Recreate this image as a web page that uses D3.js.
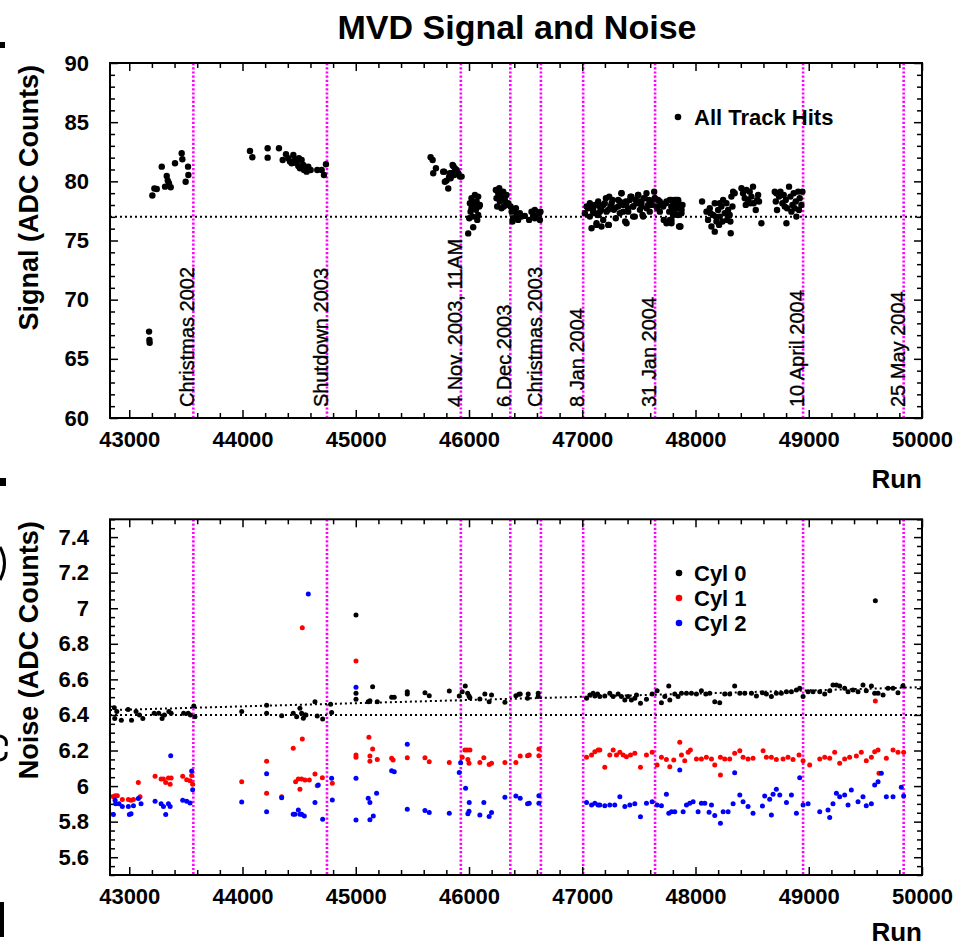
<!DOCTYPE html>
<html><head><meta charset="utf-8">
<script src="https://cdn.jsdelivr.net/npm/d3@7"></script>
<style>body{margin:0;background:#fff}svg{display:block}text{font-family:"Liberation Sans",Arial,Helvetica,sans-serif}</style>
</head><body>
<script>
// ---------- DATA ----------
const runDomain = [42830, 50000];
const xTickValues = [43000,44000,45000,46000,47000,48000,49000,50000];
const signalTicks = [60,65,70,75,80,85,90];
const noiseTicks = [5.6,5.8,6.0,6.2,6.4,6.6,6.8,7.0,7.2,7.4];
const noiseTickLabels = ["5.6","5.8","6","6.2","6.4","6.6","6.8","7","7.2","7.4"];
const eventRuns = [43566,44746,45928,46365,46635,47008,47643,48950,49838];
const eventLabels = ["Christmas 2002","Shutdown 2003","4 Nov. 2003, 11AM","6 Dec 2003","Christmas 2003","8 Jan 2004","31 Jan 2004","10 April 2004","25 May 2004"];
const signalRef = 77;
const noiseRef = 6.4;
const noiseTrend = [[42830,6.427],[50000,6.556]];

// All Track Hits [run, signal]
const signalHits = [
[43175,67.3],[43178,66.6],[43180,66.35],
[43204,78.8],[43222,79.4],[43243,79.35],[43287,81.24],[43316,79.55],[43331,80.46],[43340,80.06],[43351,79.84],[43366,79.5],[43404,81.53],[43463,82.37],[43469,81.87],[43498,79.97],[43519,81.24],[43522,80.54],
[44066,82.57],[44087,82.04],[44222,82.8],[44222,82.0],[44322,82.8],[44355,81.8],[44384,82.29],[44404,81.95],[44419,81.67],[44434,81.53],[44449,82.23],[44463,81.8],[44478,81.53],[44493,81.3],[44498,81.95],[44507,81.1],[44522,81.8],[44537,81.39],[44543,80.96],[44552,81.1],[44566,80.82],[44581,81.24],[44602,80.96],[44660,80.96],[44699,80.96],[44719,80.54],[44737,81.44],
[45661,82.04],[45679,81.8],[45684,80.68],[45708,81.1],[45772,80.82],[45781,80.82],[45787,79.97],[45802,80.06],[45817,79.4],[45825,80.4],[45831,80.68],[45838,80.26],[45847,80.68],[45855,81.39],[45861,81.3],[45870,80.54],[45875,81.1],[45891,80.96],[45905,80.68],[45920,80.4],[45935,80.4],
[45993,75.6],[46037,76.12],[46008,78.15],[46022,78.57],[46037,77.87],[46052,78.85],[46067,78.29],[46081,78.71],[46090,77.87],[46014,77.44],[46031,77.02],[46061,77.59],[46081,77.16],[46096,78.01],[46002,76.88],[46073,76.74],[46049,78.15],[46022,77.73],
[46237,79.27],[46258,78.99],[46243,78.57],[46273,78.29],[46287,78.71],[46302,79.13],[46317,78.43],[46331,78.85],[46346,78.15],[46249,77.87],[46287,77.73],[46326,78.01],[46267,79.41],[46308,77.87],
[46367,77.87],[46376,77.44],[46390,76.88],[46405,77.59],[46420,77.16],[46434,76.74],[46449,77.3],[46464,77.02],[46493,77.08],[46384,76.6],[46414,77.73],
[46531,76.74],[46552,77.44],[46567,77.16],[46581,77.59],[46596,77.02],[46620,77.3],[46631,77.44],[46626,76.74],[46581,76.88],
[47023,77.3],[47052,77.73],[47067,77.02],[47082,76.04],[47096,77.44],[47111,78.01],[47126,76.32],[47141,77.16],[47155,77.87],[47170,77.59],[47185,76.74],[47199,78.15],[47214,77.44],[47229,76.32],[47238,78.71],[47249,77.87],[47267,78.43],[47279,77.59],[47296,76.88],[47317,77.87],[47332,78.29],[47346,78.99],[47361,77.44],[47379,76.6],[47390,78.15],[47405,77.73],[47420,78.43],[47435,78.71],[47449,77.87],[47464,77.02],[47479,78.15],[47494,78.85],[47508,78.29],[47523,77.87],[47538,77.02],[47552,78.57],[47567,78.99],[47582,78.01],[47596,77.44],[47611,78.29],[47640,78.57],[47655,77.87],[47670,78.43],[47685,77.44],[47699,78.01],[47720,76.74],[47744,78.29],[47773,76.74],[47788,77.87],[47802,77.16],[47817,78.43],[47838,77.73],[47855,76.18],
[47126,76.46],[47170,76.18],[47235,76.32],[47347,78.99],[47391,76.46],[47450,77.02],[47532,77.16],[47635,79.13],[47744,76.46],[47788,76.74],[47862,76.18],[47847,77.87],[47832,78.43],
[47038,77.87],[47067,78.15],[47097,77.73],[47112,77.3],[47141,78.29],[47156,77.44],[47185,78.01],[47209,78.57],[47229,77.59],[47259,78.15],[47288,77.73],[47317,78.43],[47332,77.3],[47362,78.01],[47385,78.29],[47406,77.44],[47426,78.71],[47450,77.87],[47473,78.43],[47494,78.85],[47509,77.59],[47523,78.15],[47544,78.57],[47568,77.73],[47591,78.43],[47612,78.01],[47641,78.57],[47662,77.73],[47685,78.29],[47715,77.87],[47738,78.15],[47768,77.44],[47788,78.43],[47818,77.87],[47847,78.29],[47877,77.59],
[47773,78.43],[47788,77.87],[47802,78.29],[47817,77.58],[47832,78.15],[47847,78.43],[47861,77.73],[47876,77.3],[47885,78.01],[47867,76.18],[47788,76.46],[47847,77.16],
[48058,78.29],[48097,77.44],[48111,76.74],[48126,77.73],[48141,76.18],[48155,77.16],[48170,78.15],[48170,75.75],[48185,76.6],[48200,77.58],[48208,76.32],[48214,77.02],[48229,77.87],[48238,76.6],[48244,78.43],[48258,77.3],[48273,78.15],[48279,76.74],[48288,77.58],[48302,77.16],[48311,75.61],[48317,78.71],[48326,77.87],[48332,79.13],[48346,78.99],[48308,76.6],[48179,77.02],[48132,77.3],[48214,78.15],
[48406,79.41],[48420,78.99],[48435,78.57],[48450,79.27],[48464,78.43],[48479,79.13],[48494,78.71],[48508,79.55],[48514,78.15],[48532,77.58],[48544,78.43],[48561,78.29],[48582,76.46],[48553,78.85],[48444,78.01],[48485,78.15],
[48700,79.13],[48709,78.29],[48720,77.58],[48738,78.71],[48750,79.13],[48767,78.15],[48779,78.85],[48797,78.43],[48803,76.46],[48809,77.73],[48826,79.55],[48838,78.71],[48856,78.01],[48867,78.99],[48885,78.29],[48891,77.02],[48906,79.13],[48920,78.57],[48935,78.01],[48944,79.13],[48714,78.99],[48788,77.87],[48847,77.44],[48876,77.73],[48914,77.58]
];

// Noise, Cyl 0 [run, noise]
const cyl0 = [
[42868,6.44],[42872,6.38],[42890,6.42],[42930,6.37],[42990,6.43],[43020,6.37],[43060,6.42],[43090,6.40],[43120,6.38],[43220,6.41],[43260,6.41],[43290,6.38],[43310,6.40],[43350,6.42],[43370,6.41],[43480,6.41],[43520,6.41],[43540,6.40],[43570,6.45],[43580,6.39],
[43993,6.42],[44213,6.455],[44213,6.41],[44346,6.395],[44448,6.41],[44478,6.39],[44507,6.437],[44522,6.409],[44537,6.381],[44552,6.40],[44560,6.40],[44640,6.474],[44660,6.394],[44708,6.377],[44778,6.46],[44787,6.413],
[45002,6.962],[45002,6.522],[45002,6.488],[45110,6.474],[45125,6.48],[45149,6.559],[45190,6.474],[45317,6.499],[45340,6.499],[45455,6.531],[45455,6.518],[45611,6.525],[45649,6.508],[45826,6.535],[45914,6.507],[45940,6.531],[45967,6.563],[45988,6.522],[46000,6.507],[46008,6.497],[46096,6.49],[46140,6.518],[46178,6.474],[46199,6.512],[46317,6.471],[46414,6.508],[46440,6.516],[46452,6.518],[46517,6.494],[46523,6.518],[46611,6.522],[46611,6.503],
[47038,6.494],[47067,6.512],[47096,6.522],[47111,6.506],[47135,6.518],
[47155,6.503],[47199,6.506],[47243,6.522],[47273,6.503],[47317,6.518],[47346,6.503],[47376,6.484],[47405,6.503],[47434,6.484],[47464,6.494],[47479,6.512],[47514,6.465],[47567,6.488],[47617,6.518],[47661,6.536],[47699,6.469],[47729,6.503],[47764,6.563],[47773,6.484],[47817,6.518],[47846,6.503],[47876,6.522],[47920,6.522],[47964,6.522],[48008,6.518],[48052,6.536],[48091,6.518],[48126,6.522],[48170,6.474],[48214,6.469],[48258,6.518],[48302,6.518],[48346,6.563],[48391,6.522],[48435,6.522],[48494,6.522],[48538,6.506],[48591,6.525],[48626,6.518],[48670,6.503],[48714,6.522],[48758,6.522],[48803,6.531],[48847,6.531],[48891,6.54],[48920,6.55],[48950,6.503],[48994,6.531],[49038,6.531],[49097,6.531],[49141,6.518],[49185,6.536],[49214,6.568],[49244,6.568],[49273,6.563],[49317,6.55],[49347,6.531],[49391,6.54],[49435,6.531],[49479,6.568],[49508,6.536],[49553,6.563],[49582,6.522],[49612,6.522],[49656,6.512],[49700,6.55],[49744,6.55],[49788,6.525],[49832,6.564],
[49588,7.042]
];

// Noise, Cyl 1
const cyl1 = [
[42860,5.94],[42875,5.945],[42895,5.945],[42939,5.925],[42992,5.925],[43016,5.92],[43037,5.925],[43080,6.02],[43095,5.94],[43228,6.055],[43281,6.04],[43302,6.04],[43322,6.02],[43346,6.045],[43361,6.01],[43370,6.045],[43472,6.055],[43507,6.035],[43537,6.03],[43551,6.06],[43560,6.01],
[43993,6.025],[44213,6.14],[44213,5.96],[44346,5.94],[44448,6.212],[44469,6.025],[44493,6.04],[44507,5.982],[44522,6.04],[44528,6.265],[44528,6.89],[44552,6.034],[44590,6.034],[44640,6.068],[44705,6.047],[44660,6.002],[44793,6.016],
[45002,6.703],[45002,6.162],[45002,6.175],[45116,6.274],[45149,6.208],[45125,6.169],[45125,6.14],[45190,6.15],[45317,6.156],[45330,6.146],[45455,6.159],[45611,6.159],[45649,6.137],[45826,6.133],[45940,6.162],[45964,6.203],[45984,6.203],[46008,6.203],[45990,6.15],[46000,6.128],[46096,6.133],[46131,6.159],[46178,6.122],[46199,6.128],[46317,6.133],[46414,6.133],[46452,6.169],[46517,6.171],[46532,6.175],[46617,6.208],[46617,6.171],
[47038,6.162],[47082,6.175],[47111,6.193],[47140,6.203],
[47155,6.203],[47199,6.106],[47243,6.175],[47273,6.203],[47302,6.175],[47332,6.19],[47361,6.175],[47390,6.165],[47426,6.175],[47464,6.184],[47514,6.106],[47567,6.175],[47617,6.19],[47661,6.118],[47699,6.162],[47743,6.15],[47773,6.109],[47808,6.147],[47861,6.246],[47876,6.175],[47905,6.143],[47935,6.19],[47955,6.203],[48008,6.152],[48052,6.152],[48096,6.162],[48141,6.152],[48170,6.118],[48220,6.162],[48220,6.062],[48258,6.152],[48302,6.152],[48346,6.184],[48391,6.199],[48420,6.162],[48464,6.152],[48508,6.156],[48597,6.199],[48626,6.162],[48670,6.162],[48714,6.15],[48773,6.152],[48817,6.162],[48861,6.15],[48914,6.175],[48950,6.143],[49008,6.118],[49097,6.152],[49141,6.162],[49185,6.156],[49229,6.19],[49273,6.128],[49317,6.152],[49361,6.162],[49420,6.169],[49464,6.19],[49508,6.143],[49553,6.162],[49582,6.193],[49612,6.203],[49620,6.072],[49685,6.156],[49744,6.203],[49788,6.19],[49838,6.19],
[49588,6.478]
];

// Noise, Cyl 2
const cyl2 = [
[42860,5.84],[42875,5.92],[42880,5.90],[42910,5.90],[42939,5.885],[42992,5.885],[43001,5.84],[43016,5.845],[43037,5.89],[43080,5.93],[43104,5.90],[43228,5.915],[43281,5.90],[43302,5.885],[43322,5.84],[43346,5.90],[43361,5.885],[43366,6.17],[43472,5.92],[43507,5.915],[43537,5.905],[43551,6.085],[43560,5.98],
[43993,5.91],[44213,6.07],[44213,5.855],[44346,5.935],[44448,5.841],[44463,5.841],[44493,5.865],[44507,5.841],[44522,5.841],[44546,5.832],[44640,5.907],[44669,6.006],[44581,7.08],[44787,6.044],[44793,5.922],[44708,5.813],
[45002,6.555],[45002,6.044],[45002,5.809],[45110,5.931],[45125,5.907],[45184,5.959],[45155,5.832],[45125,5.81],[45317,6.086],[45340,6.08],[45455,6.235],[45455,5.869],[45611,5.862],[45649,5.852],[45826,5.847],[45926,6.131],[45914,6.076],[45970,5.988],[46002,5.907],[46000,5.858],[45990,5.845],[46096,5.838],[46131,5.907],[46178,5.829],[46199,5.851],[46317,5.937],[46414,5.944],[46452,5.931],[46517,5.9],[46532,5.903],[46617,5.946],[46617,5.903],
[47038,5.907],[47082,5.894],[47111,5.903],[47140,5.894],
[47155,5.894],[47199,5.89],[47243,5.894],[47287,5.894],[47332,5.94],[47376,5.885],[47420,5.894],[47464,5.9],[47514,5.828],[47567,5.903],[47617,5.912],[47661,5.894],[47699,5.89],[47743,5.954],[47764,5.847],[47788,5.856],[47817,5.856],[47861,6.09],[47891,5.856],[47920,5.894],[47949,5.903],[47979,5.912],[48023,5.856],[48052,5.903],[48082,5.903],[48120,5.853],[48141,5.894],[48170,5.834],[48220,5.791],[48244,5.856],[48288,5.856],[48332,5.9],[48346,6.075],[48391,5.95],[48420,5.912],[48464,5.885],[48508,5.847],[48591,5.888],[48611,5.944],[48655,5.926],[48670,5.837],[48685,5.954],[48714,5.982],[48744,5.95],[48803,5.907],[48847,5.95],[48891,5.847],[48920,6.047],[48950,5.894],[48994,5.9],[49097,5.856],[49170,5.866],[49185,5.824],[49214,5.9],[49244,5.959],[49273,5.94],[49317,5.95],[49347,5.894],[49376,5.978],[49435,5.912],[49479,5.94],[49508,5.89],[49553,5.9],[49582,6.006],[49612,6.025],[49641,6.072],[49685,5.94],[49744,5.94],[49817,5.993],[49838,5.944]
];

const legendTop = ["All Track Hits"];
const legendBottom = ["Cyl 0","Cyl 1","Cyl 2"];
const seriesColors = ["#000000","#ff0000","#0000ff"];

// ---------- DRAW ----------
const W = 955, H = 947;
const svg = d3.select("body").append("svg").attr("width", W).attr("height", H);
const L = 110, R = 922;
const top1 = 63, bot1 = 418, top2 = 519.3, bot2 = 875;

const x = d3.scaleLinear().domain(runDomain).range([L, R]);
const ySig = d3.scaleLinear().domain([60, 90]).range([bot1, top1]);
const yNoise = d3.scaleLinear().domain([5.5, 7.5]).range([bot2, top2]);

svg.append("text").attr("x", 517).attr("y", 39).attr("text-anchor", "middle")
  .attr("font-size", 34).attr("font-weight", "bold").text("MVD Signal and Noise");

function minorRange(a, b, step) { return d3.range(a, b + 1e-9, step); }

function panel(y, yTop, yBot, yMajor, yMinorStep, yLabels, yTitle, runY) {
  const g = svg.append("g");
  g.selectAll("line.ev").data(eventRuns).join("line")
    .attr("x1", d => x(d)).attr("x2", d => x(d)).attr("y1", yTop).attr("y2", yBot)
    .attr("stroke", "#ff00ff").attr("stroke-width", 2.6).attr("stroke-dasharray", "2.2,2");
  const xMinor = minorRange(43000, 50000, 200).filter(v => xTickValues.indexOf(v) < 0);
  const yMinor = minorRange(y.domain()[0], y.domain()[1], yMinorStep).filter(v => !yMajor.some(m => Math.abs(m - v) < 1e-6));
  const bMaj = d3.axisBottom(x).tickValues(xTickValues).tickSizeInner(-8).tickSizeOuter(0).tickPadding(13).tickFormat(d3.format("d"));
  const bMin = d3.axisBottom(x).tickValues(xMinor).tickSizeInner(-5).tickSizeOuter(0).tickFormat("");
  const tMaj = d3.axisTop(x).tickValues(xTickValues).tickSizeInner(-8).tickSizeOuter(0).tickFormat("");
  const tMin = d3.axisTop(x).tickValues(xMinor).tickSizeInner(-5).tickSizeOuter(0).tickFormat("");
  const lMaj = d3.axisLeft(y).tickValues(yMajor).tickSizeInner(-8).tickSizeOuter(0).tickPadding(21).tickFormat((d, i) => yLabels[i]);
  const lMin = d3.axisLeft(y).tickValues(yMinor).tickSizeInner(-5).tickSizeOuter(0).tickFormat("");
  const rMaj = d3.axisRight(y).tickValues(yMajor).tickSizeInner(-8).tickSizeOuter(0).tickFormat("");
  const rMin = d3.axisRight(y).tickValues(yMinor).tickSizeInner(-5).tickSizeOuter(0).tickFormat("");
  const axes = [[bMaj, `translate(0,${yBot})`], [bMin, `translate(0,${yBot})`], [tMaj, `translate(0,${yTop})`], [tMin, `translate(0,${yTop})`],
                [lMaj, `translate(${L},0)`], [lMin, `translate(${L},0)`], [rMaj, `translate(${R},0)`], [rMin, `translate(${R},0)`]];
  axes.forEach(([a, t]) => {
    const s = g.append("g").attr("transform", t).call(a);
    s.select(".domain").remove();
    s.selectAll("line").attr("stroke", "#000").attr("stroke-width", 1.5);
    s.selectAll("text").attr("font-size", 22).attr("font-weight", "bold").attr("fill", "#000")
      .attr("font-family", '"Liberation Sans",Arial,Helvetica,sans-serif');
  });
  g.append("rect").attr("x", L).attr("y", yTop).attr("width", R - L).attr("height", yBot - yTop)
    .attr("fill", "none").attr("stroke", "#000").attr("stroke-width", 2);
  g.append("text").attr("transform", `translate(38,${yTop + 2}) rotate(-90)`).attr("text-anchor", "end")
    .attr("font-size", 27).attr("font-weight", "bold").text(yTitle);
  g.append("text").attr("x", R).attr("y", runY).attr("text-anchor", "end")
    .attr("font-size", 26).attr("font-weight", "bold").text("Run");
  return g;
}

const g1 = panel(ySig, top1, bot1, signalTicks, 1, signalTicks.map(String), "Signal (ADC Counts)", 488);
g1.selectAll("text.ev").data(eventRuns).join("text")
  .attr("transform", d => `translate(${x(d) + 1},407) rotate(-90)`)
  .attr("font-size", 20).attr("stroke", "#000").attr("stroke-width", 0.35).text((d, i) => eventLabels[i]);
g1.append("line").attr("x1", x(runDomain[0])).attr("x2", x(runDomain[1])).attr("y1", ySig(signalRef)).attr("y2", ySig(signalRef))
  .attr("stroke", "#000").attr("stroke-width", 2).attr("stroke-dasharray", "2,3");
g1.selectAll("circle.pt").data(signalHits).join("circle")
  .attr("cx", d => x(d[0])).attr("cy", d => ySig(d[1])).attr("r", 3.2).attr("fill", "#000");
g1.append("circle").attr("cx", 678).attr("cy", 117).attr("r", 3.3).attr("fill", "#000");
g1.append("text").attr("x", 694).attr("y", 125).attr("font-size", 22).attr("font-weight", "bold").text(legendTop[0]);

const g2 = panel(yNoise, top2, bot2, noiseTicks, 0.05, noiseTickLabels, "Noise (ADC Counts)", 941);
g2.append("line").attr("x1", x(runDomain[0])).attr("x2", x(runDomain[1])).attr("y1", yNoise(noiseRef)).attr("y2", yNoise(noiseRef))
  .attr("stroke", "#000").attr("stroke-width", 2).attr("stroke-dasharray", "2,3");
g2.append("line").attr("x1", x(noiseTrend[0][0])).attr("x2", x(noiseTrend[1][0])).attr("y1", yNoise(noiseTrend[0][1])).attr("y2", yNoise(noiseTrend[1][1]))
  .attr("stroke", "#000").attr("stroke-width", 2).attr("stroke-dasharray", "2,3");
[cyl0, cyl1, cyl2].forEach((s, k) => {
  g2.append("g").selectAll("circle").data(s).join("circle")
    .attr("cx", d => x(d[0])).attr("cy", d => yNoise(d[1])).attr("r", 2.5).attr("fill", seriesColors[k]);
});
legendBottom.forEach((t, k) => {
  g2.append("circle").attr("cx", 679).attr("cy", 573 + 25 * k).attr("r", 3.3).attr("fill", seriesColors[k]);
  g2.append("text").attr("x", 694).attr("y", 581 + 25 * k).attr("font-size", 22).attr("font-weight", "bold").text(t);
});

// cut-off fragments at the left page edge
const frag = svg.append("g");
frag.append("rect").attr("x", 0).attr("y", 42).attr("width", 5).attr("height", 6).attr("fill", "#000");
frag.append("rect").attr("x", 0).attr("y", 478).attr("width", 6).attr("height", 8).attr("fill", "#000");
frag.append("path").attr("d", "M0,547 Q9,563 0,580").attr("fill", "none").attr("stroke", "#000").attr("stroke-width", 3);
frag.append("path").attr("d", "M0,736 Q8,738 6,746 M0,760 Q7,759 6,752").attr("fill", "none").attr("stroke", "#000").attr("stroke-width", 3);
frag.append("rect").attr("x", 0).attr("y", 902).attr("width", 4).attr("height", 35).attr("fill", "#000");
</script>
</body></html>
